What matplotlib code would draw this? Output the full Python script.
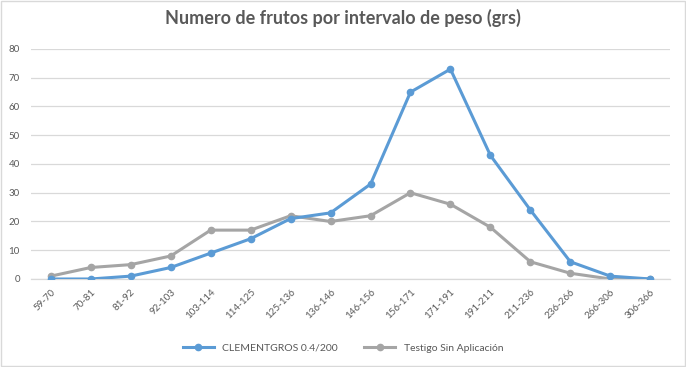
import matplotlib.pyplot as plt
from matplotlib.patches import Rectangle

plt.rcParams['font.family'] = ['Lato', 'DejaVu Sans']

intervalos = ['59-70', '70-81', '81-92', '92-103', '103-114', '114-125', '125-136', '136-146',
              '146-156', '156-171', '171-191', '191-211', '211-236', '236-266', '266-306', '306-366']
clementgros = [0, 0, 1, 4, 9, 14, 21, 23, 33, 65, 73, 43, 24, 6, 1, 0]
testigo = [1, 4, 5, 8, 17, 17, 22, 20, 22, 30, 26, 18, 6, 2, 0, 0]
yticks = [0, 10, 20, 30, 40, 50, 60, 70, 80]

fig = plt.figure(figsize=(6.86, 3.67), dpi=100)
ax = fig.add_axes([0.045, 0.2398, 0.932, 0.6267])

x = list(range(len(intervalos)))
ax.plot(x, clementgros, color='#5B9BD5', linewidth=2.2, marker='o', markersize=4.5,
        label='CLEMENTGROS 0.4/200', zorder=3)
ax.plot(x, testigo, color='#A5A5A5', linewidth=2.2, marker='o', markersize=4.5,
        label='Testigo Sin Aplicación', zorder=2)

ax.set_xlim(-0.5, len(intervalos) - 0.5)
ax.set_ylim(0, 80)
ax.set_yticks(yticks)
ax.set_xticks(x)
ax.set_xticklabels(intervalos, rotation=45, ha='right', rotation_mode='anchor')
ax.tick_params(axis='both', length=0, labelsize=7, colors='#595959')
ax.tick_params(axis='x', pad=6)
ax.tick_params(axis='y', pad=8)
ax.grid(axis='y', color='#D9D9D9', linewidth=0.9)
ax.set_axisbelow(True)
for s in ['top', 'right', 'left']:
    ax.spines[s].set_visible(False)
ax.spines['bottom'].set_color('#D9D9D9')
ax.spines['bottom'].set_linewidth(0.9)

fig.suptitle('Numero de frutos por intervalo de peso (grs)', y=0.975, fontsize=13,
             fontweight='bold', color='#595959')

fig.legend(loc='center', bbox_to_anchor=(0.5, 0.052), ncol=2, frameon=False,
           fontsize=7.5, labelcolor='#595959', handlelength=3, columnspacing=2.5)

fig.patches.append(Rectangle((0.001, 0.002), 0.997, 0.995, transform=fig.transFigure,
                             fill=False, edgecolor='#D9D9D9', linewidth=1))

fig.savefig('out.png', dpi=100)
